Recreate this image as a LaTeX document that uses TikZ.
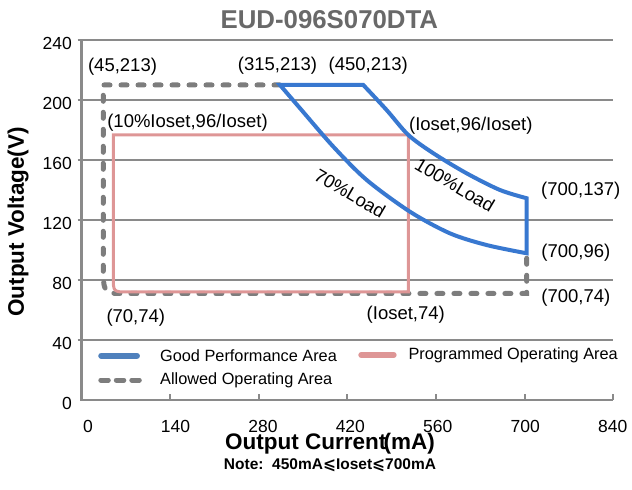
\documentclass[tikz,border=0pt]{standalone}
\usepackage{fontspec}
\setmainfont{Liberation Sans}
\newfontfamily\symfont{DejaVu Sans}
\definecolor{titlegray}{RGB}{105,105,105}
\definecolor{gridgray}{RGB}{138,138,138}
\definecolor{dashgray}{RGB}{125,125,125}
\definecolor{goodblue}{RGB}{56,120,208}
\definecolor{legblue}{RGB}{79,129,189}
\definecolor{progpink}{RGB}{222,150,150}
\tikzset{
  gridline/.style={draw=gridgray, line width=2pt},
  axisline/.style={draw=gridgray, line width=2.5pt},
  goodline/.style={draw=goodblue, line width=4pt, line join=miter},
  progline/.style={draw=progpink, line width=3pt},
  allowline/.style={draw=dashgray, line width=5pt, line cap=round, dash pattern=on 6pt off 11pt},
  ticklbl/.style={font=\fontsize{17.5pt}{20pt}\selectfont, inner sep=0pt},
  annot/.style={font=\fontsize{18.5pt}{21pt}\selectfont, inner sep=0pt},
  legtxt/.style={font=\fontsize{16.3pt}{19pt}\selectfont, inner sep=0pt, anchor=west},
  axtitle/.style={font=\bfseries\fontsize{22.5pt}{25pt}\selectfont, inner sep=0pt}
}
\begin{document}
\begin{tikzpicture}[x=0.633pt, y=1.5pt]
\useasboundingbox (-128.75,-60) rectangle (869.7,266.67);
\foreach \v in {40,80,...,240} {
  \draw[gridline] (0,\v) -- (840,\v);
  \draw[gridline] (-6.3,\v) -- (0,\v);
}
\draw[axisline] (0,240) -- (0,0) -- (840,0);
\foreach \h in {140,280,...,840}
  \draw[gridline] (\h,0) -- (\h,4);
\foreach \v in {0,40,...,240}
  \node[ticklbl, anchor=east] (ylbl\v) at (-15,\v-2) {\v};
\foreach \h [count=\k from 0] in {0,140,...,840}
  \node[ticklbl] (xlbl\h) at (10.3+\k*138.15,-17.8) {\h};

\node[font=\bfseries\fontsize{25.8pt}{28pt}\selectfont, text=titlegray, inner sep=0pt] (title) at (391.6,253.3) {EUD-096S070DTA};
\node[axtitle] (xtitle) at (392.6,-29) {Output Current\kern-0.12em(mA)};
\node[axtitle, rotate=90] (ytitle) at (-100.3,118.7) {Output Voltage(V)};
\node[font=\bfseries\fontsize{15.5pt}{18pt}\selectfont, inner sep=0pt] (note) at (392.6,-43.7) {Note:\ \ 450mA{\symfont\bfseries ⩽}Ioset{\symfont\bfseries ⩽}700mA};

\draw[allowline] (313.6,210) -- (34.4,210) -- (34.4,91) .. controls (34.4,71) .. (66,71) -- (703.3,71) -- (703.3,97.8);
\draw[progline] (516.3,176.7) -- (50.2,176.7) -- (50.2,82) .. controls (50.2,72) .. (74,72) -- (516.3,72) -- cycle;
\draw[goodline] (313.6,210) -- plot[smooth] coordinates {(445.2,210) (482.1,193.3) (516.3,176.7) (555.8,164.5) (608.5,151.1) (661.1,140) (703.3,134.5)}
  -- plot[smooth] coordinates {(703.3,97.8) (640.1,103.3) (582.1,111.1) (519,125.5) (450.5,146.7) (397.8,168.9) (345.2,194.5) (313.6,210)} -- cycle;

\node[annot] (p45) at (64.8,222.3) {(45,213)};
\node[annot] (p315) at (309.6,222.7) {(315,213)};
\node[annot] (p450) at (453.1,222.7) {(450,213)};
\node[annot] (pten) at (167.5,185) {(10\%Ioset,96/Ioset)};
\node[annot] (pset) at (615,183) {(Ioset,96/Ioset)};
\node[annot, rotate=-30.5] (full) at (590,143.3) {100\%Load};
\node[annot, rotate=-30.3] (part) at (424.2,137.8) {70\%Load};
\node[annot] (p137) at (788.8,139.3) {(700,137)};
\node[annot] (p96) at (780.9,98.3) {(700,96)};
\node[annot] (p74) at (780.9,68.3) {(700,74)};
\node[annot] (pset74) at (512.3,56.7) {(Ioset,74)};
\node[annot] (p70) at (85.8,55.1) {(70,74)};

\draw[draw=legblue, line width=6pt, line cap=round] (31.2,29.5) -- (87.6,29.5);
\node[legtxt] (leggood) at (124,29.5) {Good Performance Area};
\draw[draw=dashgray, line width=5pt, line cap=round, dash pattern=on 7.5pt off 8pt] (30.5,13.3) -- (91.3,13.3);
\node[legtxt] (legallow) at (124,13.3) {Allowed Operating Area};
\draw[draw=progpink, line width=6pt, line cap=round] (442,30) -- (493.2,30);
\node[legtxt] (legprog) at (516.3,30) {Programmed Operating Area};
\end{tikzpicture}
\end{document}
